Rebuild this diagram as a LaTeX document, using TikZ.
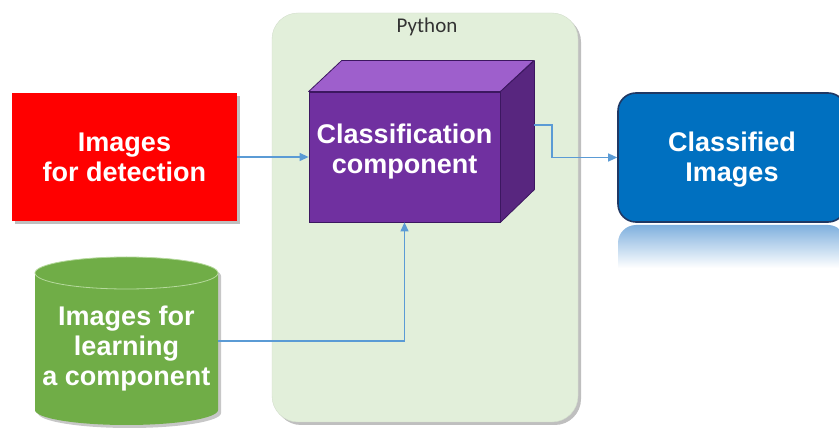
\documentclass[tikz,border=0pt]{standalone}
\usepackage{fontspec}
\setmainfont{Liberation Sans}
\newfontfamily\labelfont{Carlito}
\usetikzlibrary{arrows.meta,shadows,positioning}

\definecolor{detred}{HTML}{FF0000}
\definecolor{pyback}{HTML}{E2EFDA}
\definecolor{cubefront}{HTML}{7030A0}
\definecolor{cubetop}{HTML}{9E5FCC}
\definecolor{cubeside}{HTML}{58267F}
\definecolor{cubeedge}{HTML}{3C1760}
\definecolor{outblue}{HTML}{0070C0}
\definecolor{outedge}{HTML}{1F3864}
\definecolor{reflblue}{HTML}{7FB0DE}
\definecolor{lrngreen}{HTML}{70AD47}
\definecolor{lrnrim}{HTML}{B5D99C}
\definecolor{linkblue}{HTML}{5B9BD5}

\tikzset{
  bigtext/.style={text=white, font=\bfseries\fontsize{27}{30}\selectfont, align=center},
  link/.style={draw=linkblue, line width=1.2pt, -{Triangle[length=9pt,width=8pt]}},
  softshadow/.style={drop shadow={shadow xshift=3pt, shadow yshift=-3pt, opacity=0.25, fill=black}},
}

\begin{document}
\begin{tikzpicture}[x=1pt, y=-1pt]
  \useasboundingbox (0,0) rectangle (839,430);
  \fill[white] (0,0) rectangle (839,430);

  % Python container
  \node[draw=pyback!85!gray, fill=pyback, rounded corners=26pt, minimum width=306pt,
        minimum height=409pt, inner sep=0pt, softshadow] (py) at (425,217.5) {};
  \node[font=\labelfont\fontsize{21}{24}\selectfont, text=black!80] (pylabel) at (427,27) {Python};

  % input images for detection
  \node[fill=detred, minimum width=225pt, minimum height=128pt, inner sep=0pt,
        softshadow, bigtext] (det) at (124.5,157) {Images\\for detection};

  % classification cube: front face node, then top and side faces
  \node[fill=cubefront, draw=cubeedge, line width=0.8pt, minimum width=191pt,
        minimum height=130pt, inner sep=0pt] (cls) at (404.5,157) {};
  \fill[cubetop, draw=cubeedge, line width=0.8pt, line join=round]
    (cls.north west) -- ++(33,-31) -- ++(192,0) -- (cls.north east) -- cycle;
  \fill[cubeside, draw=cubeedge, line width=0.8pt, line join=round]
    (cls.north east) -- ++(34,-31) -- ++(0,129) -- (cls.south east) -- cycle;
  \node[bigtext] (clstext) at ([yshift=5pt]cls.center) {Classification\\component};
  \coordinate (clsside) at (534,125);

  % classified images with its mirrored reflection
  \shade[top color=reflblue, middle color=reflblue!55!white, bottom color=white]
    (618,268) [rounded corners=18pt] -- (618,225) -- (846,225) [sharp corners] -- (846,268) -- cycle;
  \node[fill=outblue, draw=outedge, line width=1.6pt, rounded corners=18pt,
        minimum width=228pt, minimum height=129pt, inner sep=0pt] (out) at (732,157.5) {};
  \node[bigtext] (outtext) at ([yshift=-2pt]out.center) {Classified\\Images};

  % images for learning: cylinder
  \node[minimum width=183pt, minimum height=168pt, inner sep=0pt] (lrn) at (126.5,341) {};
  \fill[black, opacity=0.22] (38,276) -- (38,413)
    arc[start angle=180, end angle=0, x radius=91.5, y radius=15]
    -- (221,276) arc[start angle=0, end angle=-180, x radius=91.5, y radius=16] -- cycle;
  \fill[lrngreen] (35,273) -- (35,410)
    arc[start angle=180, end angle=0, x radius=91.5, y radius=15]
    -- (218,273) arc[start angle=0, end angle=-180, x radius=91.5, y radius=16] -- cycle;
  \draw[lrnrim, line width=0.8pt] (126.5,273) ellipse[x radius=91.5, y radius=16];
  \node[bigtext] (lrntext) at (126.5,349) {Images for\\learning\\a component};

  % connectors
  \draw[link] (det.east) -- (cls.west);
  \draw[link] (clsside) -- ++(18,0) |- (out.west);
  \draw[link] (lrn.east) -| (cls.south);
\end{tikzpicture}
\end{document}
